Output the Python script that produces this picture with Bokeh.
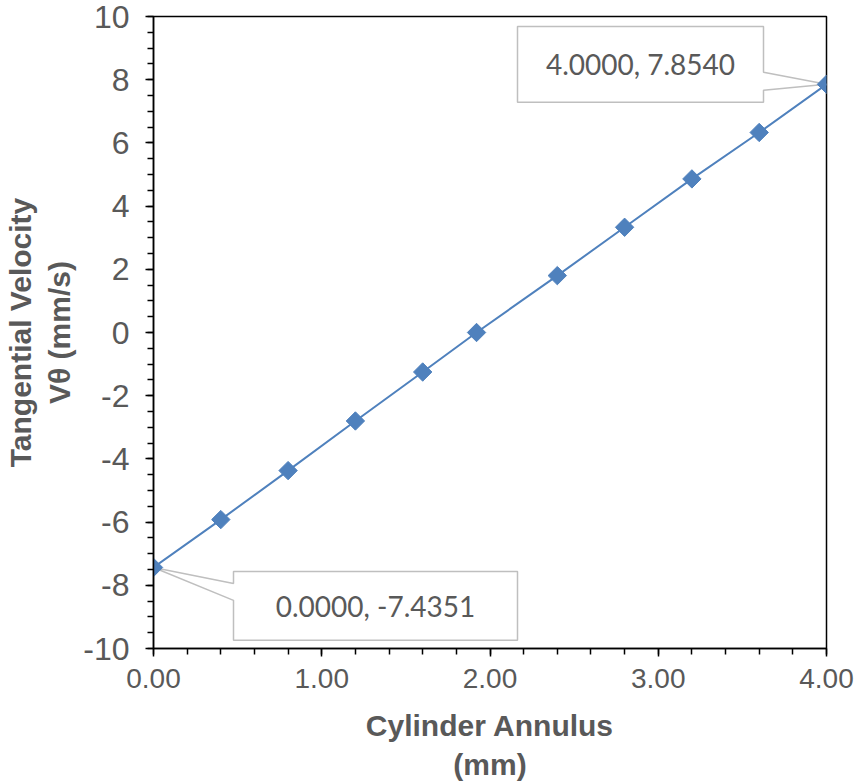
import math

from bokeh.embed import file_html
from bokeh.models import (ColumnDataSource, Label, NumeralTickFormatter,
                          Range1d, SingleIntervalTicker)
from bokeh.plotting import figure
from bokeh.resources import INLINE

# Tangential velocity across the cylinder annulus
annulus_mm = [0.0, 0.4, 0.8, 1.2, 1.6, 1.92, 2.4, 2.8, 3.2, 3.6, 4.0]
velocity_mm_s = [-7.4351, -5.92, -4.37, -2.80, -1.25, 0.0, 1.80, 3.33, 4.86, 6.33, 7.8540]

x_limits = [0.0, 4.0]
y_limits = [-10.0, 10.0]

BLUE = "#4F81BD"
GREY_TEXT = "#595959"
CALLOUT_LINE = "#BFBFBF"
AXIS_FONT = "Liberation Sans"
CALLOUT_FONT = "Lato"

# frame geometry (pixels)
FRAME_W, FRAME_H = 673, 634
BORDER_L, BORDER_R, BORDER_T, BORDER_B = 153, 31, 16, 134

p = figure(
    width=BORDER_L + FRAME_W + BORDER_R,
    height=BORDER_T + FRAME_H + BORDER_B,
    x_range=Range1d(*x_limits),
    y_range=Range1d(*y_limits),
    output_backend="svg",
    toolbar_location=None,
    min_border_left=BORDER_L,
    min_border_right=BORDER_R,
    min_border_top=BORDER_T,
    min_border_bottom=BORDER_B,
)
p.background_fill_color = "white"
p.border_fill_color = "white"
p.outline_line_color = "black"
p.outline_line_width = 1.5
p.xgrid.visible = False
p.ygrid.visible = False

# pixels per data unit, used to size the callouts
PX = FRAME_W / (x_limits[1] - x_limits[0])
PY = FRAME_H / (y_limits[1] - y_limits[0])


def offset_poly(x0, y0, offsets):
    xs = [x0 + dx / PX for dx, dy in offsets]
    ys = [y0 + dy / PY for dx, dy in offsets]
    return xs, ys


# data callouts (pointer boxes) for the first and last points
top_xs, top_ys = offset_poly(
    annulus_mm[-1], velocity_mm_s[-1],
    [(-309, 58), (-63, 58), (-63, 12), (0, 0), (-63, -6), (-63, -18), (-309, -18)],
)
bot_xs, bot_ys = offset_poly(
    annulus_mm[0], velocity_mm_s[0],
    [(80, -4), (364, -4), (364, -73), (80, -73), (80, -33), (0, 0), (80, -16)],
)
p.patch(top_xs, top_ys, fill_color="white", line_color=CALLOUT_LINE, line_width=1.5)
p.patch(bot_xs, bot_ys, fill_color="white", line_color=CALLOUT_LINE, line_width=1.5)

src = ColumnDataSource(dict(x=annulus_mm, y=velocity_mm_s))
p.line("x", "y", source=src, line_color=BLUE, line_width=2)
p.scatter("x", "y", source=src, marker="square", angle=math.pi / 4, size=13,
          fill_color=BLUE, line_color=BLUE)

for (xv, yv, dx, dy) in [(annulus_mm[-1], velocity_mm_s[-1], -186, 20),
                         (annulus_mm[0], velocity_mm_s[0], 222, -39)]:
    p.add_layout(Label(
        x=xv, y=yv, x_offset=dx, y_offset=dy,
        text=f"{xv:.4f}, {yv:.4f}",
        text_font=CALLOUT_FONT, text_font_size="28px",
        text_color=GREY_TEXT, text_align="center", text_baseline="middle",
    ))

# axes
xa = p.xaxis[0]
xa.ticker = SingleIntervalTicker(interval=1, num_minor_ticks=5)
xa.formatter = NumeralTickFormatter(format="0.00")
xa.axis_label = "Cylinder Annulus\n(mm)"
xa.axis_label_standoff = 18
xa.major_label_standoff = 12

ya = p.yaxis[0]
ya.ticker = SingleIntervalTicker(interval=2, num_minor_ticks=4)
ya.formatter = NumeralTickFormatter(format="0")
ya.axis_label = "Tangential Velocity\nVθ (mm/s)"
ya.axis_label_standoff = 4
ya.major_label_standoff = 16

for ax, size in [(xa, "28px"), (ya, "32px")]:
    ax.axis_line_color = "black"
    ax.axis_line_width = 1.5
    ax.major_tick_line_color = "black"
    ax.major_tick_line_width = 1.5
    ax.minor_tick_line_color = "black"
    ax.minor_tick_line_width = 1.5
    ax.major_tick_in = 0
    ax.major_tick_out = 8
    ax.minor_tick_in = 0
    ax.minor_tick_out = 6
    ax.major_label_text_font = AXIS_FONT
    ax.major_label_text_font_size = size
    ax.major_label_text_color = GREY_TEXT
    ax.axis_label_text_font = AXIS_FONT
    ax.axis_label_text_font_size = "30px"
    ax.axis_label_text_font_style = "bold"
    ax.axis_label_text_color = GREY_TEXT

open("out.html", "w").write(file_html(p, INLINE))
